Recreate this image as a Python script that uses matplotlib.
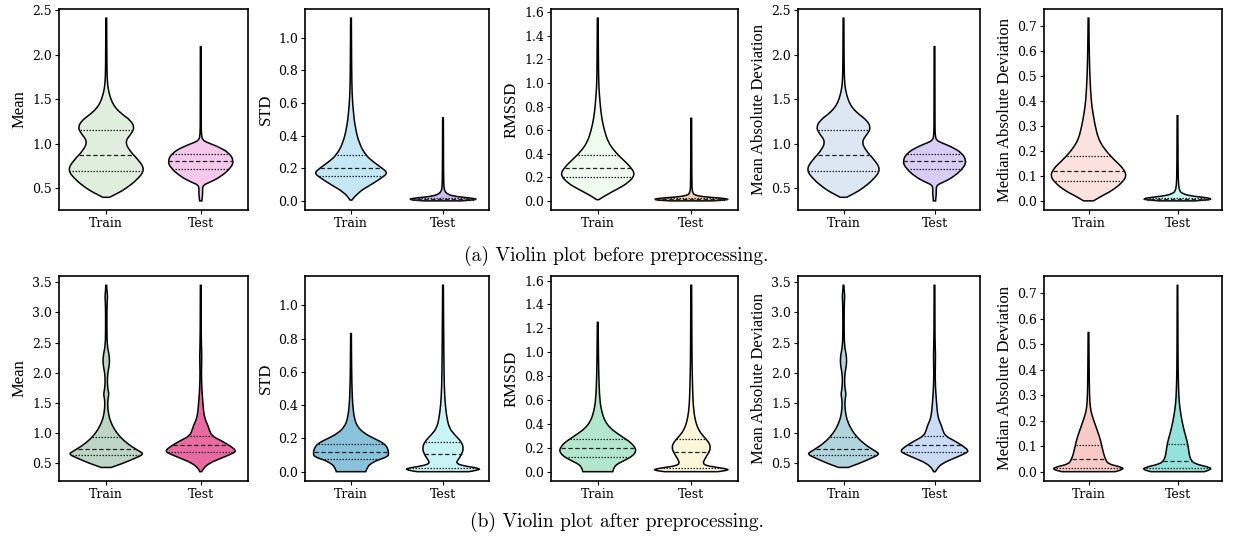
import numpy as np
import matplotlib
matplotlib.use("Agg")
import matplotlib.pyplot as plt
from matplotlib.path import Path
from matplotlib.patches import PathPatch

# violin outlines: y levels and half widths (x units)
# (a) before preprocessing
mean_pre_train_y = [0.40, 0.45, 0.5, 0.6, 0.71, 0.82, 0.93, 1.03, 1.12, 1.19, 1.27, 1.33, 1.40, 1.47, 1.55, 1.62, 1.70, 1.80, 2.0, 2.41]
mean_pre_train_w = [0.035, 0.13, 0.21, 0.33, 0.41, 0.34, 0.24, 0.20, 0.27, 0.30, 0.25, 0.17, 0.10, 0.06, 0.035, 0.02, 0.012, 0.008, 0.006, 0.004]
mean_pre_train_q = [0.695, 0.875, 1.155]
mean_pre_test_y = [0.36, 0.40, 0.45, 0.50, 0.54, 0.57, 0.63, 0.73, 0.81, 0.90, 0.97, 1.01, 1.04, 1.10, 1.3, 2.09]
mean_pre_test_w = [0.012, 0.016, 0.02, 0.018, 0.03, 0.10, 0.21, 0.32, 0.35, 0.30, 0.18, 0.08, 0.02, 0.006, 0.005, 0.004]
mean_pre_test_q = [0.72, 0.81, 0.89]

std_pre_train_y = [0.005, 0.05, 0.10, 0.14, 0.17, 0.20, 0.24, 0.28, 0.35, 0.45, 0.55, 0.65, 0.8, 1.12]
std_pre_train_w = [0.01, 0.07, 0.22, 0.33, 0.40, 0.34, 0.24, 0.16, 0.09, 0.045, 0.025, 0.012, 0.007, 0.004]
std_pre_train_q = [0.15, 0.20, 0.28]
std_pre_test_y = [0.0, 0.005, 0.012, 0.02, 0.03, 0.045, 0.06, 0.08, 0.15, 0.51]
std_pre_test_w = [0.2, 0.33, 0.37, 0.25, 0.10, 0.04, 0.02, 0.01, 0.006, 0.004]
std_pre_test_q = [0.008, 0.012, 0.018]

rmssd_pre_train_y = [0.01, 0.05, 0.10, 0.15, 0.22, 0.28, 0.35, 0.42, 0.50, 0.60, 0.70, 0.80, 0.90, 1.0, 1.2, 1.55]
rmssd_pre_train_w = [0.01, 0.09, 0.21, 0.32, 0.40, 0.36, 0.27, 0.18, 0.11, 0.07, 0.043, 0.028, 0.018, 0.01, 0.007, 0.004]
rmssd_pre_train_q = [0.20, 0.28, 0.39]
rmssd_pre_test_y = [0.0, 0.006, 0.015, 0.025, 0.035, 0.05, 0.065, 0.09, 0.15, 0.70]
rmssd_pre_test_w = [0.22, 0.36, 0.40, 0.30, 0.12, 0.035, 0.02, 0.01, 0.006, 0.004]
rmssd_pre_test_q = [0.01, 0.015, 0.022]

medad_pre_train_y = [0.0, 0.02, 0.04, 0.07, 0.10, 0.13, 0.16, 0.19, 0.22, 0.25, 0.30, 0.35, 0.40, 0.5, 0.6, 0.73]
medad_pre_train_w = [0.055, 0.15, 0.26, 0.37, 0.43, 0.39, 0.30, 0.22, 0.155, 0.11, 0.075, 0.05, 0.03, 0.015, 0.008, 0.004]
medad_pre_train_q = [0.078, 0.12, 0.18]
medad_pre_test_y = [0.0, 0.004, 0.008, 0.014, 0.02, 0.03, 0.04, 0.06, 0.12, 0.34]
medad_pre_test_w = [0.2, 0.34, 0.39, 0.30, 0.14, 0.05, 0.025, 0.012, 0.006, 0.004]
medad_pre_test_q = [0.005, 0.008, 0.012]

# (b) after preprocessing
mean_post_train_y = [0.43, 0.5, 0.58, 0.65, 0.70, 0.78, 0.87, 0.95, 1.05, 1.2, 1.35, 1.5, 1.6, 1.65, 1.72, 1.85,
                     2.0, 2.1, 2.2, 2.3, 2.45, 2.7, 3.0, 3.2, 3.27, 3.35, 3.45]
mean_post_train_w = [0.053, 0.18, 0.30, 0.40, 0.35, 0.265, 0.19, 0.14, 0.09, 0.042, 0.02, 0.014, 0.022, 0.028, 0.018, 0.011,
                     0.016, 0.03, 0.035, 0.03, 0.01, 0.007, 0.007, 0.01, 0.014, 0.008, 0.004]
mean_post_train_q = [0.63, 0.74, 0.93]
mean_post_test_y = [0.36, 0.42, 0.5, 0.58, 0.65, 0.70, 0.78, 0.88, 0.95, 1.05, 1.12, 1.2, 1.3, 1.45, 1.6, 1.75, 2.0, 2.3, 2.5, 3.45]
mean_post_test_w = [0.01, 0.03, 0.09, 0.21, 0.32, 0.38, 0.32, 0.21, 0.12, 0.09, 0.078, 0.053, 0.035, 0.025, 0.018, 0.011, 0.007, 0.012, 0.005, 0.004]
mean_post_test_q = [0.68, 0.80, 0.95]

std_post_train_y = [0.0, 0.03, 0.05, 0.07, 0.09, 0.11, 0.14, 0.17, 0.20, 0.23, 0.27, 0.32, 0.4, 0.5, 0.6, 0.83]
std_post_train_w = [0.16, 0.18, 0.22, 0.29, 0.40, 0.41, 0.40, 0.36, 0.25, 0.145, 0.07, 0.036, 0.018, 0.011, 0.007, 0.004]
std_post_train_q = [0.078, 0.12, 0.167]
std_post_test_y = [0.0, 0.01, 0.02, 0.035, 0.05, 0.07, 0.10, 0.14, 0.18, 0.22, 0.26, 0.32, 0.4, 0.5, 0.7, 1.12]
std_post_test_w = [0.28, 0.39, 0.40, 0.22, 0.145, 0.16, 0.2, 0.225, 0.2, 0.13, 0.07, 0.043, 0.025, 0.014, 0.009, 0.004]
std_post_test_q = [0.022, 0.109, 0.177]

rmssd_post_train_y = [0.0, 0.03, 0.06, 0.08, 0.10, 0.13, 0.17, 0.20, 0.24, 0.28, 0.32, 0.36, 0.42, 0.5, 0.6, 0.8, 1.0, 1.25]
rmssd_post_train_w = [0.16, 0.17, 0.20, 0.25, 0.30, 0.37, 0.41, 0.40, 0.36, 0.285, 0.21, 0.14, 0.078, 0.043, 0.021, 0.011, 0.007, 0.004]
rmssd_post_train_q = [0.126, 0.196, 0.27]
rmssd_post_test_y = [0.0, 0.01, 0.02, 0.035, 0.05, 0.07, 0.10, 0.15, 0.20, 0.25, 0.30, 0.35, 0.42, 0.5, 0.6, 0.8, 1.0, 1.56]
rmssd_post_test_w = [0.285, 0.38, 0.40, 0.285, 0.16, 0.125, 0.14, 0.18, 0.21, 0.185, 0.125, 0.078, 0.046, 0.028, 0.018, 0.011, 0.007, 0.004]
rmssd_post_test_q = [0.028, 0.165, 0.27]

medad_post_train_y = [0.0, 0.01, 0.02, 0.03, 0.05, 0.07, 0.10, 0.13, 0.16, 0.19, 0.22, 0.25, 0.3, 0.4, 0.545]
medad_post_train_w = [0.30, 0.41, 0.35, 0.22, 0.19, 0.17, 0.15, 0.13, 0.10, 0.07, 0.04, 0.02, 0.011, 0.007, 0.004]
medad_post_train_q = [0.016, 0.048, 0.105]
medad_post_test_y = [0.0, 0.01, 0.02, 0.03, 0.045, 0.07, 0.10, 0.13, 0.16, 0.2, 0.23, 0.27, 0.32, 0.4, 0.5, 0.73]
medad_post_test_w = [0.30, 0.40, 0.33, 0.2, 0.15, 0.13, 0.12, 0.10, 0.075, 0.05, 0.035, 0.02, 0.012, 0.007, 0.005, 0.003]
medad_post_test_q = [0.015, 0.041, 0.109]

groups = ["Train", "Test"]
ylabels = ["Mean", "STD", "RMSSD", "Mean Absolute Deviation", "Median Absolute Deviation"]

# y tick values per panel
mean_pre_ticks = [0.5, 1.0, 1.5, 2.0, 2.5]
mean_post_ticks = [0.5, 1.0, 1.5, 2.0, 2.5, 3.0, 3.5]
std_ticks = [0.0, 0.2, 0.4, 0.6, 0.8, 1.0]
rmssd_ticks = [0.0, 0.2, 0.4, 0.6, 0.8, 1.0, 1.2, 1.4, 1.6]
medad_ticks = [0.0, 0.1, 0.2, 0.3, 0.4, 0.5, 0.6, 0.7]
pre_ticks = [mean_pre_ticks, std_ticks, rmssd_ticks, mean_pre_ticks, medad_ticks]
post_ticks = [mean_post_ticks, std_ticks, rmssd_ticks, mean_post_ticks, medad_ticks]

pre = [
    ((mean_pre_train_y, mean_pre_train_w, mean_pre_train_q), (mean_pre_test_y, mean_pre_test_w, mean_pre_test_q)),
    ((std_pre_train_y, std_pre_train_w, std_pre_train_q), (std_pre_test_y, std_pre_test_w, std_pre_test_q)),
    ((rmssd_pre_train_y, rmssd_pre_train_w, rmssd_pre_train_q), (rmssd_pre_test_y, rmssd_pre_test_w, rmssd_pre_test_q)),
    ((mean_pre_train_y, mean_pre_train_w, mean_pre_train_q), (mean_pre_test_y, mean_pre_test_w, mean_pre_test_q)),
    ((medad_pre_train_y, medad_pre_train_w, medad_pre_train_q), (medad_pre_test_y, medad_pre_test_w, medad_pre_test_q)),
]
post = [
    ((mean_post_train_y, mean_post_train_w, mean_post_train_q), (mean_post_test_y, mean_post_test_w, mean_post_test_q)),
    ((std_post_train_y, std_post_train_w, std_post_train_q), (std_post_test_y, std_post_test_w, std_post_test_q)),
    ((rmssd_post_train_y, rmssd_post_train_w, rmssd_post_train_q), (rmssd_post_test_y, rmssd_post_test_w, rmssd_post_test_q)),
    ((mean_post_train_y, mean_post_train_w, mean_post_train_q), (mean_post_test_y, mean_post_test_w, mean_post_test_q)),
    ((medad_post_train_y, medad_post_train_w, medad_post_train_q), (medad_post_test_y, medad_post_test_w, medad_post_test_q)),
]
pre_colors = [("#dfeedd", "#f6c8ec"), ("#c4e7f5", "#cbbcf0"), ("#eefbee", "#f6d2aa"),
              ("#dde7f3", "#d9cdf6"), ("#fbe2df", "#c9f6f1")]
post_colors = [("#bdd5c4", "#e96ba2"), ("#88c2db", "#c9f4f6"), ("#b3e7cd", "#fbf7d8"),
               ("#b1d5dd", "#cadbf6"), ("#f8cac7", "#95e1dc")]


def side(pts):
    # smooth one side of the violin: read points act as control points
    verts = [pts[0]]
    codes = [Path.LINETO]
    for i in range(1, len(pts) - 1):
        mid = ((pts[i][0] + pts[i + 1][0]) / 2, (pts[i][1] + pts[i + 1][1]) / 2)
        verts += [pts[i], mid]
        codes += [Path.CURVE3, Path.CURVE3]
    verts.append(pts[-1])
    codes.append(Path.LINETO)
    return verts, codes


def violin(ax, pos, ys, ws, quart, color):
    ys = np.array(ys)
    ws = np.array(ws)
    right = list(zip(pos + ws, ys))
    left = list(zip(pos - ws, ys))[::-1]
    rv, rc = side(right)
    lv, lc = side(left)
    verts = [left[-1]] + rv + lv + [left[-1]]
    codes = [Path.MOVETO] + rc + lc + [Path.CLOSEPOLY]
    ax.add_patch(PathPatch(Path(verts, codes), facecolor=color, edgecolor="black", lw=1.1))
    for q, ls in zip(quart, [(0, (1.2, 1.2)), (0, (3.5, 2)), (0, (1.2, 1.2))]):
        w = np.interp(q, ys, ws) * 0.98
        ax.plot([pos - w, pos + w], [q, q], ls=ls, color="#222222", lw=0.9)


W, H = 1233, 537
fig = plt.figure(figsize=(W / 100, H / 100), dpi=100)
lefts = [59, 305, 551, 798, 1044]
rights = [248, 489, 738, 980, 1222]
rows = [(9, 210, pre, pre_colors, pre_ticks), (276, 481, post, post_colors, post_ticks)]

for top, bottom, data, cols, ticks in rows:
    for i in range(5):
        ax = fig.add_axes([lefts[i] / W, 1 - bottom / H, (rights[i] - lefts[i]) / W, (bottom - top) / H])
        for j in range(2):
            ys, ws, qs = data[i][j]
            violin(ax, j, ys, ws, qs, cols[i][j])
        ax.autoscale_view()
        ax.set_xlim(-0.5, 1.5)
        ax.set_xticks([0, 1])
        ax.set_xticklabels(groups)
        ax.set_yticks(ticks[i])
        ax.set_yticklabels([f"{t:.1f}" for t in ticks[i]])
        ax.set_ylabel(ylabels[i], family="Liberation Serif", fontsize=12, labelpad=3)
        ax.tick_params(labelsize=9, length=3, width=0.8, pad=2)
        for lab in ax.get_xticklabels() + ax.get_yticklabels():
            lab.set_family("DejaVu Serif")
        for s in ax.spines.values():
            s.set_linewidth(1.2)

fig.text(0.5, 1 - 256 / H, "(a) Violin plot before preprocessing.", family="cmr10", fontsize=14,
         ha="center", va="center")
fig.text(0.5, 1 - 522 / H, "(b) Violin plot after preprocessing.", family="cmr10", fontsize=14,
         ha="center", va="center")

fig.savefig("out.png", dpi=100)
